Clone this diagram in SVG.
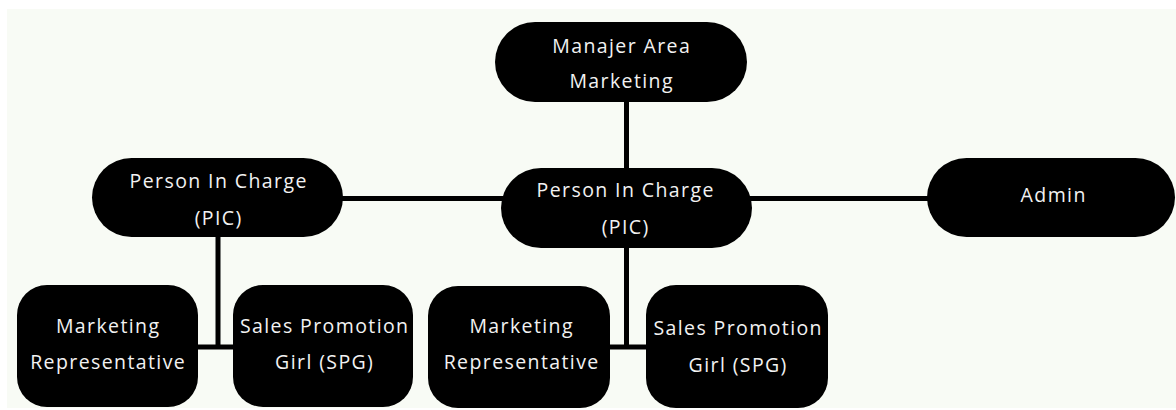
<svg xmlns="http://www.w3.org/2000/svg" width="1176" height="410" viewBox="0 0 1176 410">
  <style>
    .node { fill: #000000; }
    .label { fill: #f2f2f2; font-family: "Open Sans", "Noto Sans", sans-serif; font-size: 19.5px; letter-spacing: 1.4px; text-anchor: middle; }
    .link { stroke: #000000; stroke-width: 5; fill: none; }
  </style>

  <!-- canvas -->
  <rect x="0" y="0" width="1176" height="410" fill="#ffffff"/>
  <rect x="7" y="9" width="1169" height="399" fill="#f8fbf5"/>

  <!-- connectors -->
  <g id="connectors">
    <line class="link" x1="626.5" y1="100" x2="626.5" y2="170"/>
    <line class="link" x1="340" y1="198.5" x2="504" y2="198.5"/>
    <line class="link" x1="749" y1="198.5" x2="930" y2="198.5"/>
    <line class="link" x1="218" y1="235" x2="218" y2="347"/>
    <line class="link" x1="196" y1="347" x2="235" y2="347"/>
    <line class="link" x1="626.5" y1="246" x2="626.5" y2="347"/>
    <line class="link" x1="608" y1="347" x2="648" y2="347"/>
  </g>

  <g id="manajer-area-marketing">
    <rect class="node" x="495" y="22" width="252" height="80" rx="40"/>
    <text class="label" x="621.7" y="52.7">Manajer Area</text>
    <text class="label" x="621.7" y="88.3">Marketing</text>
  </g>

  <g id="pic-center">
    <rect class="node" x="501" y="168" width="251" height="80" rx="40"/>
    <text class="label" x="625.7" y="196.7">Person In Charge</text>
    <text class="label" x="625.7" y="233.5">(PIC)</text>
  </g>

  <g id="pic-left">
    <rect class="node" x="92" y="158" width="251" height="79" rx="39.5"/>
    <text class="label" x="218.7" y="188.3">Person In Charge</text>
    <text class="label" x="218.7" y="225">(PIC)</text>
  </g>

  <g id="admin">
    <rect class="node" x="927" y="158" width="248" height="79" rx="39.5"/>
    <text class="label" x="1053.7" y="202.3">Admin</text>
  </g>

  <g id="marketing-rep-left">
    <rect class="node" x="17" y="285" width="181" height="122" rx="30"/>
    <text class="label" x="108.2" y="332.7">Marketing</text>
    <text class="label" x="108.2" y="369">Representative</text>
  </g>

  <g id="spg-left">
    <rect class="node" x="233" y="285" width="180" height="122" rx="30"/>
    <text class="label" x="324.7" y="332.7">Sales Promotion</text>
    <text class="label" x="324.7" y="369.3">Girl (SPG)</text>
  </g>

  <g id="marketing-rep-center">
    <rect class="node" x="428" y="286" width="182" height="122" rx="30"/>
    <text class="label" x="521.7" y="333">Marketing</text>
    <text class="label" x="521.7" y="369">Representative</text>
  </g>

  <g id="spg-center">
    <rect class="node" x="646" y="285" width="182" height="123" rx="30"/>
    <text class="label" x="738.2" y="335">Sales Promotion</text>
    <text class="label" x="738.2" y="371.7">Girl (SPG)</text>
  </g>
</svg>
